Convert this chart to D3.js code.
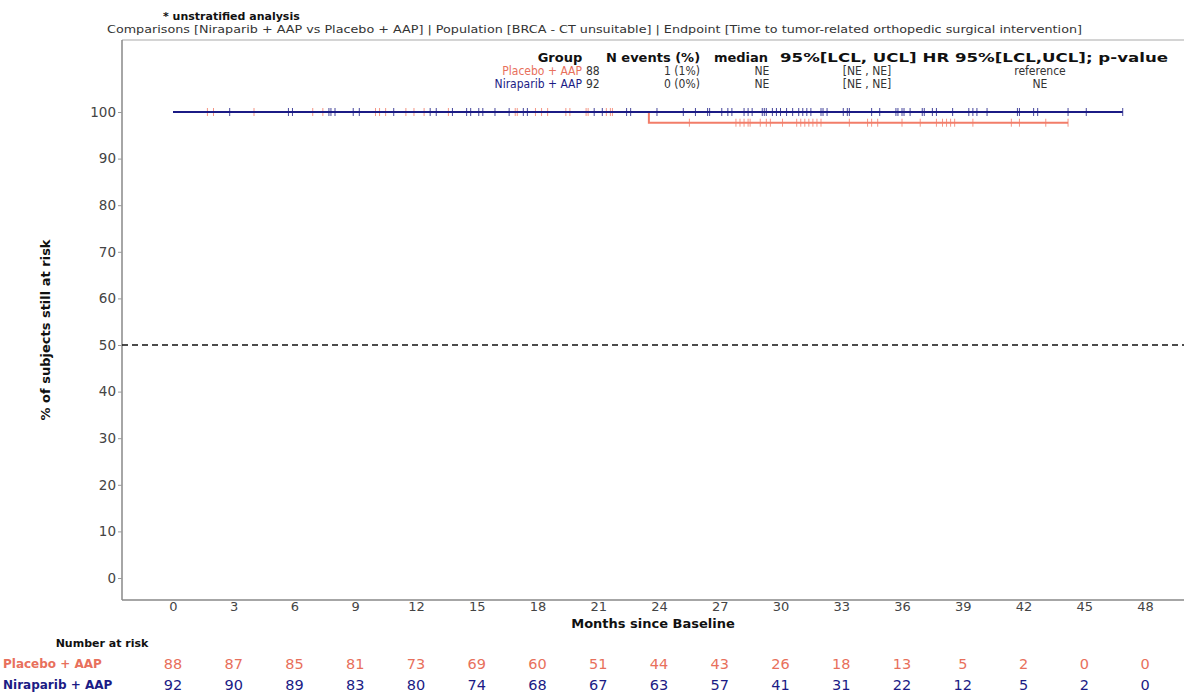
<!DOCTYPE html>
<html>
<head>
<meta charset="utf-8">
<script src="https://cdn.jsdelivr.net/npm/d3@7"></script>
<style>
  html, body { margin: 0; padding: 0; background: #fff; }
  svg { display: block; font-family: "DejaVu Sans", sans-serif; }
</style>
</head>
<body>
<script>
// ---------------- data ----------------
const groups = ["Placebo + AAP", "Niraparib + AAP"];
const groupColors = ["#F27D69", "#1B1B85"];
const textColors = ["#E8705C", "#1B1B85"];

// Kaplan-Meier step curves (months, % still at risk)
const placeboStepTimes = [0, 23.5, 44.2];
const placeboStepSurv = [100, 97.7, 97.7];
const niraparibStepTimes = [0, 46.9];
const niraparibStepSurv = [100, 100];

// censoring times (months)
const placeboCensor = [1.7, 2.0, 4.0, 6.9, 7.4, 10.0, 10.2, 10.5, 11.5, 11.9, 12.4, 13.6,
  16.9, 17.0, 17.9, 18.2, 18.5, 19.4, 19.6, 20.4, 20.5, 21.4, 21.6, 21.7,
  25.5, 27.8, 28.0, 28.2, 28.4, 28.5, 29.0, 29.3, 29.5, 30.1, 30.8, 31.0, 31.2, 31.4,
  31.6, 31.8, 32.0, 33.4, 34.3, 34.5, 34.8, 36.0, 36.9, 37.7, 38.0, 38.2, 38.4, 38.6,
  39.5, 41.4, 41.8, 43.1, 44.2];
const niraparibCensor = [2.8, 5.7, 5.9, 7.7, 7.8, 8.0, 8.9, 9.2, 10.9, 12.7, 13.0, 13.8,
  14.5, 14.7, 15.1, 15.3, 15.9, 16.6, 17.3, 17.5, 20.8, 21.2, 22.4, 22.6,
  23.9, 25.2, 25.8, 26.4, 26.5, 27.1, 27.4, 27.6, 28.2, 28.4, 28.6, 29.1, 29.2, 29.3,
  29.6, 29.8, 30.0, 30.3, 30.6, 30.9, 31.1, 31.3, 31.5, 32.0, 32.1, 32.3, 33.1, 33.3, 33.4,
  34.5, 34.9, 35.7, 35.8, 36.0, 36.1, 36.4, 37.0, 37.1, 37.5, 37.7, 38.5, 39.3, 39.5, 39.7,
  40.2, 41.7, 41.8, 42.5, 42.7, 44.2, 45.1, 46.9];

const xTicks = [0, 3, 6, 9, 12, 15, 18, 21, 24, 27, 30, 33, 36, 39, 42, 45, 48];
const yTicks = [0, 10, 20, 30, 40, 50, 60, 70, 80, 90, 100];
const placeboAtRisk = [88, 87, 85, 81, 73, 69, 60, 51, 44, 43, 26, 18, 13, 5, 2, 0, 0];
const niraparibAtRisk = [92, 90, 89, 83, 80, 74, 68, 67, 63, 57, 41, 31, 22, 12, 5, 2, 0];

const legendHeader = ["Group", "N events (%)", "median", "95%[LCL, UCL] HR 95%[LCL,UCL]; p-value"];
const legendRows = [
  ["Placebo + AAP", "88", "1 (1%)", "NE", "[NE , NE]", "reference"],
  ["Niraparib + AAP", "92", "0 (0%)", "NE", "[NE , NE]", "NE"]
];

const titleLine1 = "* unstratified analysis";
const titleLine2 = "Comparisons [Niraparib + AAP vs Placebo + AAP] | Population [BRCA - CT unsuitable] | Endpoint [Time to tumor-related orthopedic surgical intervention]";

// ---------------- drawing ----------------
const W = 1184, H = 693;
const svg = d3.select("body").append("svg").attr("width", W).attr("height", H);

const frameLeft = 122, frameTop = 40, frameBottom = 600;
const x = d3.scaleLinear().domain([0, 48]).range([173, 1145]);
const y = d3.scaleLinear().domain([0, 100]).range([578, 112]);

// titles
svg.append("text").attr("x", 163).attr("y", 20)
  .attr("font-size", 11).attr("font-weight", "bold").attr("fill", "#111")
  .text(titleLine1);
svg.append("text").attr("x", 107).attr("y", 33)
  .attr("font-size", 11).attr("fill", "#333")
  .attr("textLength", 975).attr("lengthAdjust", "spacingAndGlyphs")
  .text(titleLine2);

// frame
svg.append("line").attr("x1", frameLeft).attr("x2", W).attr("y1", frameTop).attr("y2", frameTop)
  .attr("stroke", "#aaa").attr("stroke-width", 1.2);
svg.append("line").attr("x1", frameLeft).attr("x2", frameLeft).attr("y1", frameTop).attr("y2", frameBottom)
  .attr("stroke", "#888").attr("stroke-width", 1.5);
svg.append("line").attr("x1", frameLeft).attr("x2", W).attr("y1", frameBottom).attr("y2", frameBottom)
  .attr("stroke", "#888").attr("stroke-width", 1.5);

// y axis
const yAxis = svg.append("g").attr("transform", `translate(${frameLeft},0)`)
  .call(d3.axisLeft(y).tickValues(yTicks).tickSize(4).tickPadding(2));
yAxis.select(".domain").remove();
yAxis.selectAll("line").attr("stroke", "#999");
yAxis.selectAll("text").attr("font-size", 13.5).attr("fill", "#444").attr("font-family", "DejaVu Sans");

// x axis
const xAxis = svg.append("g").attr("transform", `translate(0,${frameBottom})`)
  .call(d3.axisBottom(x).tickValues(xTicks).tickSize(0).tickPadding(2));
xAxis.select(".domain").remove();
xAxis.selectAll("text").attr("font-size", 13).attr("fill", "#444").attr("font-family", "DejaVu Sans");

// axis labels
svg.append("text").attr("x", 653).attr("y", 628).attr("text-anchor", "middle")
  .attr("font-size", 13).attr("font-weight", "bold").attr("fill", "#111")
  .text("Months since Baseline");
svg.append("text").attr("transform", "translate(50,330) rotate(-90)").attr("text-anchor", "middle")
  .attr("font-size", 13).attr("font-weight", "bold").attr("fill", "#111")
  .text("% of subjects still at risk");

// median reference line
svg.append("line").attr("x1", frameLeft).attr("x2", W).attr("y1", y(50)).attr("y2", y(50))
  .attr("stroke", "#111").attr("stroke-width", 1.6).attr("stroke-dasharray", "6,4");

// curves
const curves = [
  { t: placeboStepTimes, s: placeboStepSurv, c: placeboCensor, color: groupColors[0], w: 2 },
  { t: niraparibStepTimes, s: niraparibStepSurv, c: niraparibCensor, color: groupColors[1], w: 2.2 }
];
const line = d3.line().x(d => x(d[0])).y(d => y(d[1])).curve(d3.curveStepAfter);
function survAt(cv, time) {
  let v = cv.s[0];
  for (let i = 0; i < cv.t.length; i++) if (cv.t[i] <= time) v = cv.s[i];
  return v;
}
curves.forEach(cv => {
  const pts = cv.t.map((t, i) => [t, cv.s[i]]);
  svg.append("path").datum(pts).attr("d", line)
    .attr("fill", "none").attr("stroke", cv.color).attr("stroke-width", cv.w);
  svg.append("g").selectAll("line").data(cv.c).join("line")
    .attr("x1", d => x(d)).attr("x2", d => x(d))
    .attr("y1", d => y(survAt(cv, d)) - 4).attr("y2", d => y(survAt(cv, d)) + 4)
    .attr("stroke", cv.color).attr("stroke-width", 1).attr("opacity", 0.8);
});

// legend table
const hdr = svg.append("g").attr("font-size", 13).attr("font-weight", "bold").attr("fill", "#111");
const hdrPos = [[560, "middle"], [653, "middle"], [741, "middle"], [780, "start"]];
legendHeader.forEach((h, i) => {
  const t = hdr.append("text").attr("x", hdrPos[i][0]).attr("y", 62).attr("text-anchor", hdrPos[i][1]).text(h);
  if (i === 3) t.attr("textLength", 388).attr("lengthAdjust", "spacingAndGlyphs");
});
const colPos = [[582, "end"], [586, "start"], [682, "middle"], [762, "middle"], [867, "middle"], [1040, "middle"]];
legendRows.forEach((row, r) => {
  const g = svg.append("g").attr("font-size", 12)
    .attr("font-family", "'DejaVu Sans Condensed', 'DejaVu Sans', sans-serif");
  row.forEach((cell, i) => {
    g.append("text").attr("x", colPos[i][0]).attr("y", 75 + r * 12.5)
      .attr("text-anchor", colPos[i][1])
      .attr("fill", i === 0 ? textColors[r] : "#333")
      .text(cell);
  });
});

// number at risk table
svg.append("text").attr("x", 102).attr("y", 647).attr("text-anchor", "middle")
  .attr("font-size", 11).attr("font-weight", "bold").attr("fill", "#111")
  .text("Number at risk");
[placeboAtRisk, niraparibAtRisk].forEach((vals, r) => {
  const yy = 669 + r * 20.5;
  svg.append("text").attr("x", 3).attr("y", yy - 1)
    .attr("font-size", 12).attr("font-weight", "bold").attr("fill", textColors[r])
    .text(groups[r]);
  svg.append("g").selectAll("text").data(vals).join("text")
    .attr("x", (d, i) => x(xTicks[i])).attr("y", yy)
    .attr("text-anchor", "middle").attr("font-size", 14.5).attr("fill", textColors[r])
    .text(d => d);
});
</script>
</body>
</html>
